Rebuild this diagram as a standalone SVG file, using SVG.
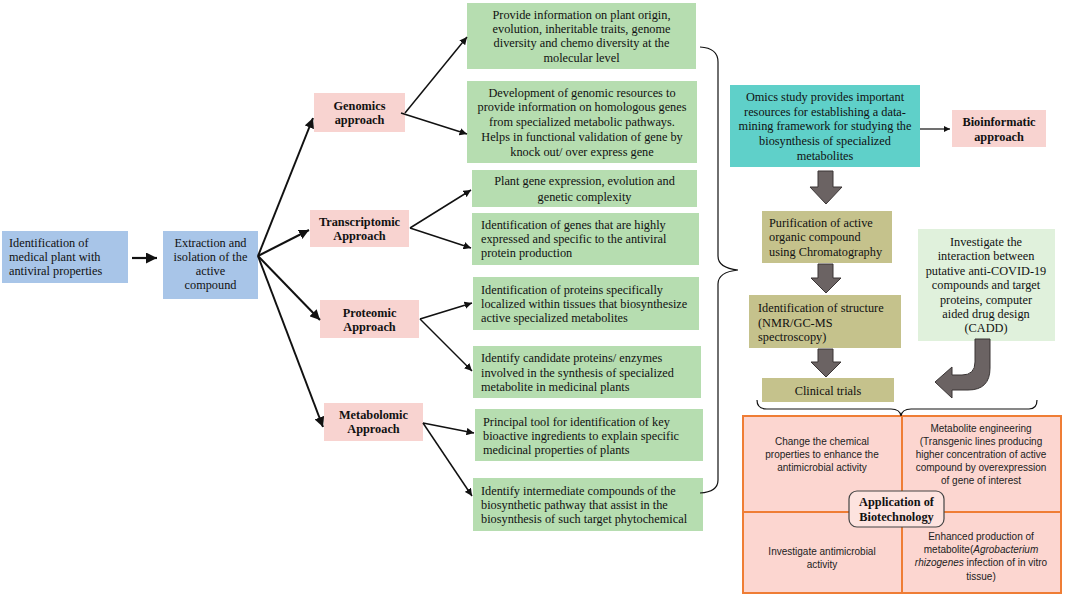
<svg xmlns="http://www.w3.org/2000/svg" width="1065" height="600" viewBox="0 0 1065 600">
<defs>
<style>
.t{font-family:"Liberation Serif","Times New Roman",serif;font-size:12.3px;fill:#111}
.c{text-anchor:middle}
.b{font-weight:bold}
.s{font-family:"Liberation Sans",Arial,sans-serif;font-size:10px;fill:#222;text-anchor:middle}
.blue{fill:#a8c5e8}
.pink{fill:#f8d3d0}
.green{fill:#b6ddb0}
.olive{fill:#c5c28c}
.conn{stroke:#111;fill:none}
.blk{fill:#6b6363;stroke:#3a3535;stroke-width:1}
</style>
<marker id="ah" viewBox="0 0 10 10" refX="10" refY="5" markerWidth="5" markerHeight="5" orient="auto" markerUnits="strokeWidth">
<path d="M0,0 L10,5 L0,10 z" fill="#111"/>
</marker>
</defs>
<rect width="1065" height="600" fill="#fff"/>

<g id="n-ident">
<rect class="blue" x="2" y="231" width="126" height="52"/>
<text class="t" x="9" y="247">Identification of</text>
<text class="t" x="9" y="261">medical plant with</text>
<text class="t" x="9" y="275">antiviral properties</text>
</g>
<g id="n-extract">
<rect class="blue" x="163" y="231" width="95" height="68"/>
<text class="t c" x="210.5" y="247">Extraction and</text>
<text class="t c" x="210.5" y="261">isolation of the</text>
<text class="t c" x="210.5" y="275">active</text>
<text class="t c" x="210.5" y="289">compound</text>
</g>

<g id="n-genomics">
<rect class="pink" x="314" y="93" width="91" height="39"/>
<text class="t c b" x="359.5" y="110">Genomics</text>
<text class="t c b" x="359.5" y="124">approach</text>
</g>
<g id="n-trans">
<rect class="pink" x="310" y="210" width="99" height="37"/>
<text class="t c b" x="359.5" y="226">Transcriptomic</text>
<text class="t c b" x="359.5" y="240">Approach</text>
</g>
<g id="n-prot">
<rect class="pink" x="320" y="300" width="99" height="38"/>
<text class="t c b" x="369.5" y="317">Proteomic</text>
<text class="t c b" x="369.5" y="331">Approach</text>
</g>
<g id="n-metab">
<rect class="pink" x="324" y="403" width="99" height="38"/>
<text class="t c b" x="373.5" y="419">Metabolomic</text>
<text class="t c b" x="373.5" y="433">Approach</text>
</g>

<g id="n-g1">
<rect class="green" x="467" y="3" width="229" height="66"/>
<text class="t c" x="581.5" y="19">Provide information on plant origin,</text>
<text class="t c" x="581.5" y="33">evolution, inheritable traits, genome</text>
<text class="t c" x="581.5" y="47">diversity and chemo diversity at the</text>
<text class="t c" x="581.5" y="62">molecular level</text>
</g>
<g id="n-g2">
<rect class="green" x="467" y="81" width="230" height="82"/>
<text class="t c" x="582" y="97">Development of genomic resources to</text>
<text class="t c" x="582" y="111">provide information on homologous genes</text>
<text class="t c" x="582" y="126">from specialized metabolic pathways.</text>
<text class="t c" x="582" y="141">Helps in functional validation of gene by</text>
<text class="t c" x="582" y="156">knock out/ over express gene</text>
</g>
<g id="n-g3">
<rect class="green" x="472" y="170" width="225" height="37"/>
<text class="t c" x="584.5" y="185">Plant gene expression, evolution and</text>
<text class="t c" x="584.5" y="201">genetic complexity</text>
</g>
<g id="n-g4">
<rect class="green" x="472" y="213" width="227" height="52"/>
<text class="t" x="481" y="229">Identification of genes that are highly</text>
<text class="t" x="481" y="243">expressed and specific to the antiviral</text>
<text class="t" x="481" y="257">protein production</text>
</g>
<g id="n-g5">
<rect class="green" x="473" y="277" width="226" height="53"/>
<text class="t" x="481" y="294">Identification of proteins specifically</text>
<text class="t" x="481" y="308">localized within tissues that biosynthesize</text>
<text class="t" x="481" y="322">active specialized metabolites</text>
</g>
<g id="n-g6">
<rect class="green" x="473" y="346" width="228" height="52"/>
<text class="t" x="481" y="362">Identify candidate proteins/ enzymes</text>
<text class="t" x="481" y="377">involved in the synthesis of specialized</text>
<text class="t" x="481" y="391">metabolite in medicinal plants</text>
</g>
<g id="n-g7">
<rect class="green" x="475" y="409" width="228" height="52"/>
<text class="t" x="483" y="426">Principal tool for identification of key</text>
<text class="t" x="483" y="440">bioactive ingredients to explain specific</text>
<text class="t" x="483" y="454">medicinal properties of plants</text>
</g>
<g id="n-g8">
<rect class="green" x="473" y="478" width="230" height="53"/>
<text class="t" x="481" y="495">Identify intermediate compounds of the</text>
<text class="t" x="481" y="509">biosynthetic pathway that assist in the</text>
<text class="t" x="481" y="523">biosynthesis of such target phytochemical</text>
</g>

<g id="n-omics">
<rect x="730" y="85" width="190" height="82" fill="#5fd0c9"/>
<text class="t c" x="825" y="101">Omics study provides important</text>
<text class="t c" x="825" y="116">resources for establishing a data-</text>
<text class="t c" x="825" y="130">mining framework for studying the</text>
<text class="t c" x="825" y="145">biosynthesis of specialized</text>
<text class="t c" x="825" y="160">metabolites</text>
</g>
<g id="n-bioinf">
<rect class="pink" x="952" y="110" width="94" height="37"/>
<text class="t c b" x="999" y="126">Bioinformatic</text>
<text class="t c b" x="999" y="141">approach</text>
</g>
<g id="n-purif">
<rect class="olive" x="762" y="211" width="130" height="52"/>
<text class="t" x="769" y="227">Purification of active</text>
<text class="t" x="769" y="241">organic compound</text>
<text class="t" x="769" y="256">using Chromatography</text>
</g>
<g id="n-struct">
<rect class="olive" x="749" y="295" width="152" height="53"/>
<text class="t" x="758" y="312">Identification of structure</text>
<text class="t" x="758" y="327">(NMR/GC-MS</text>
<text class="t" x="758" y="341">spectroscopy)</text>
</g>
<g id="n-clinical">
<rect class="olive" x="762" y="378" width="132" height="24"/>
<text class="t c" x="828" y="395">Clinical trials</text>
</g>
<g id="n-cadd">
<rect x="918" y="229" width="137" height="112" fill="#e0f1dc"/>
<text class="t c" x="986" y="246">Investigate the</text>
<text class="t c" x="986" y="260">interaction between</text>
<text class="t c" x="986" y="275">putative anti-COVID-19</text>
<text class="t c" x="986" y="289">compounds and target</text>
<text class="t c" x="986" y="304">proteins, computer</text>
<text class="t c" x="986" y="318">aided drug design</text>
<text class="t c" x="986" y="332">(CADD)</text>
</g>

<g id="n-biotech">
<rect x="743" y="416" width="318" height="177" fill="#fcd6d0" stroke="#ef7d35" stroke-width="2"/>
<line x1="902" y1="416" x2="902" y2="593" stroke="#ef7d35" stroke-width="2"/>
<line x1="743" y1="512" x2="1061" y2="512" stroke="#ef7d35" stroke-width="2"/>
<text class="s" x="822" y="445">Change the chemical</text>
<text class="s" x="822" y="458">properties to enhance the</text>
<text class="s" x="822" y="471">antimicrobial activity</text>
<text class="s" x="981" y="432">Metabolite engineering</text>
<text class="s" x="981" y="445">(Transgenic lines producing</text>
<text class="s" x="981" y="458">higher concentration of active</text>
<text class="s" x="981" y="471">compound by overexpression</text>
<text class="s" x="981" y="484">of gene of interest</text>
<text class="s" x="822" y="555">Investigate antimicrobial</text>
<text class="s" x="822" y="568">activity</text>
<text class="s" x="981" y="540">Enhanced production of</text>
<text class="s" x="981" y="553">metabolite(<tspan font-style="italic">Agrobacterium</tspan></text>
<text class="s" x="981" y="566"><tspan font-style="italic">rhizogenes</tspan> infection of in vitro</text>
<text class="s" x="981" y="580">tissue)</text>
<rect x="849" y="491" width="95" height="36" rx="8" fill="#fde3df" stroke="#444" stroke-width="1.2"/>
<text class="t c b" x="896.5" y="506">Application of</text>
<text class="t c b" x="896.5" y="521">Biotechnology</text>
</g>

<g id="connectors">
<line class="conn" x1="132" y1="258" x2="157" y2="258" stroke-width="2.2" marker-end="url(#ah)"/>
<line class="conn" x1="258" y1="256" x2="313" y2="118" stroke-width="2" marker-end="url(#ah)"/>
<line class="conn" x1="258" y1="256" x2="309" y2="230" stroke-width="2" marker-end="url(#ah)"/>
<line class="conn" x1="258" y1="256" x2="320" y2="320" stroke-width="2" marker-end="url(#ah)"/>
<line class="conn" x1="258" y1="256" x2="323" y2="427" stroke-width="2" marker-end="url(#ah)"/>
<line class="conn" x1="405" y1="113" x2="467" y2="37" stroke-width="1.5" marker-end="url(#ah)"/>
<line class="conn" x1="401" y1="113" x2="467" y2="134" stroke-width="1.5" marker-end="url(#ah)"/>
<line class="conn" x1="410" y1="228" x2="471" y2="190" stroke-width="1.5" marker-end="url(#ah)"/>
<line class="conn" x1="410" y1="228" x2="471" y2="248" stroke-width="1.5" marker-end="url(#ah)"/>
<line class="conn" x1="420" y1="319" x2="472" y2="303" stroke-width="1.5" marker-end="url(#ah)"/>
<line class="conn" x1="420" y1="319" x2="472" y2="371" stroke-width="1.5" marker-end="url(#ah)"/>
<line class="conn" x1="423" y1="423" x2="474" y2="433" stroke-width="1.5" marker-end="url(#ah)"/>
<line class="conn" x1="423" y1="423" x2="472" y2="496" stroke-width="1.5" marker-end="url(#ah)"/>
<line class="conn" x1="920" y1="129" x2="950" y2="129" stroke-width="1.2" marker-end="url(#ah)"/>
<path class="conn" stroke-width="1.2" d="M700,47 Q718,48 718,62 L718,256 Q718,268 738,270 Q718,272 718,284 L718,480 Q718,492 700,493"/>
<path class="conn" stroke-width="1.2" d="M757,400 Q757,409 767,409 L891,409 Q900,409 901,416 Q902,409 911,409 L1029,409 Q1037,409 1037,400"/>
<path class="blk" d="M818,171 L833,171 L833,187 L842,187 L826,204 L810,187 L818,187 Z"/>
<path class="blk" d="M818,264 L833,264 L833,278 L841,278 L826,293 L811,278 L818,278 Z"/>
<path class="blk" d="M818,349 L833,349 L833,362 L841,362 L826,377 L811,362 L818,362 Z"/>
<path class="blk" d="M975,339 L990,339 L990,368 Q990,390 968,390 L952,390 L952,398 L935,382 L952,367 L952,375 L962,375 Q975,375 975,362 Z"/>
</g>
</svg>
